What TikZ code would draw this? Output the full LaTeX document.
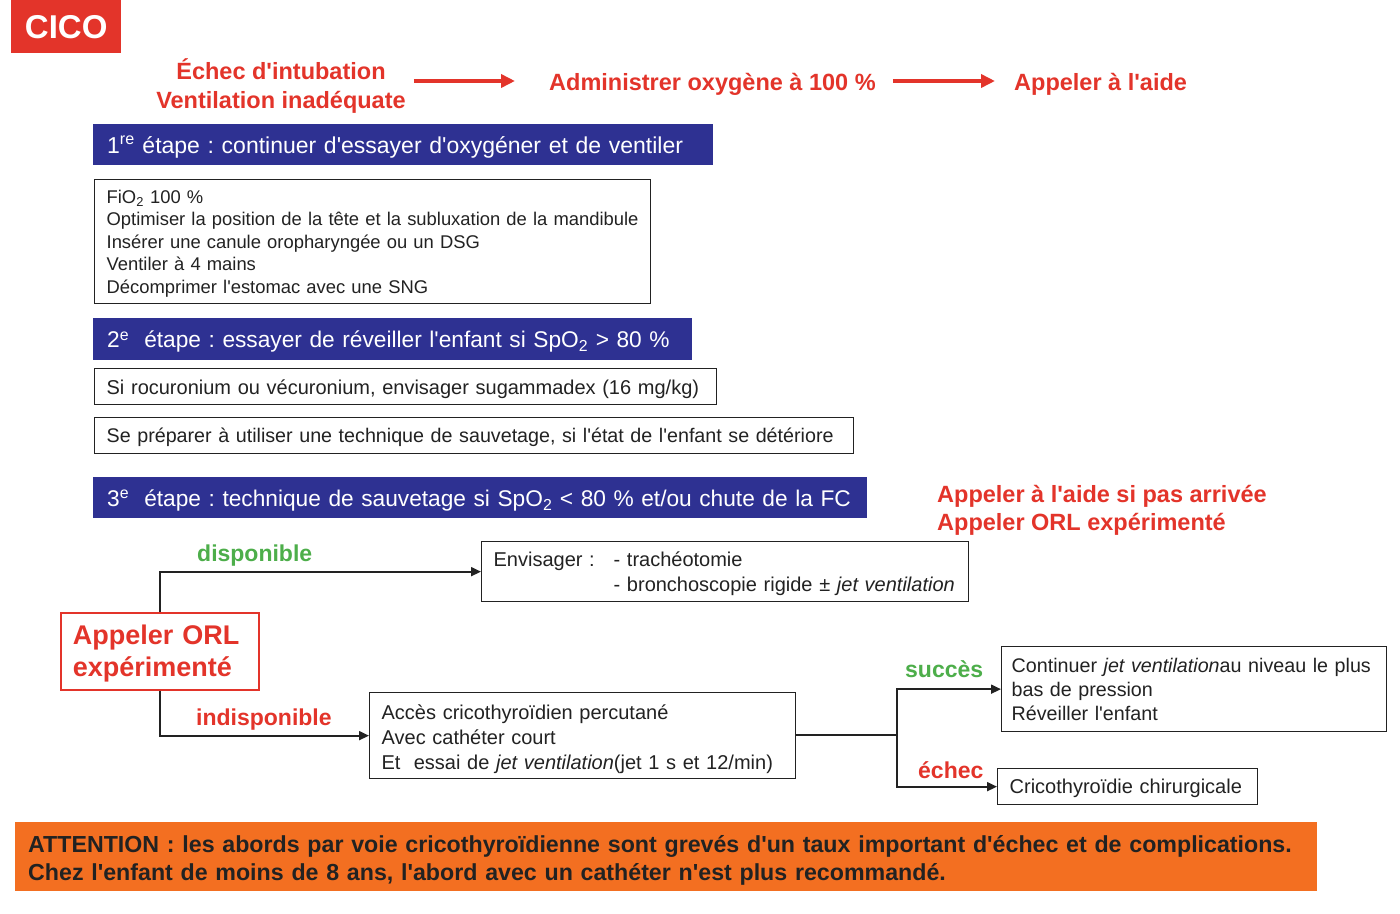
\documentclass[tikz,border=0pt]{standalone}
\usepackage{fontspec}
\setmainfont{Liberation Sans}[Ligatures=TeXOff]
\usetikzlibrary{arrows.meta}
\definecolor{cred}{HTML}{E3342A}
\definecolor{cblue}{HTML}{2E3192}
\definecolor{cgreen}{HTML}{4DAE4A}
\definecolor{corange}{HTML}{F36F21}
\definecolor{cink}{HTML}{222222}
\frenchspacing
\begin{document}
\begin{tikzpicture}[x=1pt,y=-1pt,
  lbl/.style={inner sep=0pt, anchor=base west},
  head/.style={lbl, text=cred, font=\fontsize{23.5}{28.5}\selectfont\bfseries},
  branch/.style={lbl, font=\fontsize{23}{28}\selectfont\bfseries},
  bar/.style={anchor=north west, fill=cblue, text=white, inner xsep=14pt, inner ysep=0pt, align=left, text height=17pt, text depth=0pt, font=\fontsize{22.7}{28}\selectfont},
  box/.style={anchor=north west, draw=cink, line width=1.3pt, inner xsep=12pt, inner ysep=0pt, align=left, text=cink, font=\fontsize{20}{25}\selectfont},
  flat/.style={text depth=0pt},
  conn/.style={line width=1.8pt, draw=cink, -{Triangle[length=10pt,width=9pt]}},
  redarrow/.style={line width=4pt, draw=cred, -{Triangle[length=14pt,width=13pt]}},
]
\fill[white] (0,0) rectangle (1400,913);
\useasboundingbox (0,0) rectangle (1400,913);

% title
\node[anchor=north west, fill=cred, text=white, minimum width=110pt, minimum height=53pt, inner sep=0pt, font=\fontsize{33}{36}\selectfont\bfseries] (cico) at (11,0) {CICO};

% header line
\node[inner sep=0pt, text=cred, font=\fontsize{23.5}{28.5}\selectfont\bfseries, align=center] (echec) at (281,86) {Échec d'intubation\\Ventilation inadéquate};
\node[head] (admin) at (549,90) {Administrer oxygène à 100 \%};
\node[head] (aide) at (1014,90) {Appeler à l'aide};
\coordinate (a1) at ([yshift=9pt]admin.base west);
\coordinate (a2) at ([yshift=9pt]admin.base east);
\coordinate (a3) at ([yshift=9pt]aide.base west);
\draw[redarrow] ([xshift=8pt]echec.east |- a1) -- ([xshift=-34pt]a1);
\draw[redarrow] ([xshift=17pt]a2) -- ([xshift=-19pt]a3);

% step 1
\node[bar, minimum width=620pt, minimum height=41pt, text width=592pt, font=\fontsize{23}{28}\selectfont] (s1) at (93,124)
  {1\textsuperscript{re} étape : continuer d'essayer d'oxygéner et de ventiler};
\node[box, minimum width=556pt, minimum height=124pt, text width=532pt, font=\fontsize{18.4}{22.6}\selectfont] (b1) at (94,179)
  {\rule{0pt}{17pt}FiO\textsubscript{2} 100 \%\\
   Optimiser la position de la tête et la subluxation de la mandibule\\
   Insérer une canule oropharyngée ou un DSG\\
   Ventiler à 4 mains\\
   Décomprimer l'estomac avec une SNG};

% step 2
\node[bar, minimum width=599pt, minimum height=42pt, text width=571pt] (s2) at (93,318)
  {2\textsuperscript{e}\ \ étape : essayer de réveiller l'enfant si SpO\textsubscript{2} > 80 \%};
\node[box, flat, minimum width=622pt, minimum height=36pt, text width=598pt] (b2) at (94,368)
  {Si rocuronium ou vécuronium, envisager sugammadex (16 mg/kg)};
\node[box, flat, minimum width=759pt, minimum height=36pt, text width=735pt, font=\fontsize{19.7}{25}\selectfont] (b3) at (94,417)
  {Se préparer à utiliser une technique de sauvetage, si l'état de l'enfant se détériore};

% step 3
\node[bar, minimum width=774pt, minimum height=41pt, text width=746pt] (s3) at (93,477)
  {3\textsuperscript{e}\ \ étape : technique de sauvetage si SpO\textsubscript{2} < 80 \% et/ou chute de la FC};
\node[anchor=north west, inner sep=0pt, align=left, text=cred, font=\fontsize{23.5}{28.5}\selectfont\bfseries] (aide2) at (937,485)
  {Appeler à l'aide si pas arrivée\\Appeler ORL expérimenté};

% ORL
\node[anchor=north west, draw=cred, line width=1.6pt, minimum width=198pt, minimum height=77pt, inner xsep=12pt, inner ysep=0pt, text width=174pt, align=left, text=cred, font=\fontsize{27}{32}\selectfont\bfseries] (orl) at (60,612)
  {\rule{0pt}{24pt}Appeler ORL\\expérimenté};

\node[box, minimum width=487pt, minimum height=60pt, text width=463pt] (env) at (481,541)
  {\rule{0pt}{19pt}\makebox[120pt][l]{Envisager :}- trachéotomie\\
   \hspace*{120pt}- bronchoscopie rigide ± \textit{jet ventilation}};
\node[box, minimum width=426pt, minimum height=86pt, text width=402pt] (acc) at (369,692)
  {\rule{0pt}{21pt}Accès cricothyroïdien percutané\\
   Avec cathéter court\\
   Et\ \ essai de \textit{jet ventilation}(jet 1 s et 12/min)};
\node[box, minimum width=385pt, minimum height=85pt, inner xsep=10pt, text width=365pt, font=\fontsize{19.7}{24}\selectfont] (cont) at (1001,646)
  {Continuer \textit{jet ventilation}au niveau le plus\\
   bas de pression\\
   Réveiller l'enfant};
\node[box, flat, minimum width=260pt, minimum height=36pt, text width=236pt] (crico) at (997,768)
  {Cricothyroïdie chirurgicale};

\draw[conn] (orl.north) |- (env.west);
\draw[conn] (orl.south) |- (acc.west);
\coordinate (split) at (897,735);
\draw[line width=1.8pt, draw=cink] (acc.east |- split) -- (split);
\draw[conn] (split) |- (cont.west);
\draw[conn] (split) |- (crico.west);

\node[branch, text=cgreen] (dispo) at (197,561) {disponible};
\node[branch, text=cred] (indispo) at (196,725) {indisponible};
\node[branch, text=cgreen] (succes) at (905,677) {succès};
\node[branch, text=cred] (echec2) at (918,778) {échec};

% warning
\node[anchor=north west, fill=corange, minimum width=1302pt, minimum height=69pt, inner xsep=13pt, inner ysep=0pt, text width=1276pt, align=left, text=cink, font=\fontsize{23.2}{28}\selectfont\bfseries] (warn) at (15,822)
  {\rule{0pt}{25pt}ATTENTION : les abords par voie cricothyroïdienne sont grevés d'un taux important d'échec et de complications.\\
   Chez l'enfant de moins de 8 ans, l'abord avec un cathéter n'est plus recommandé.};
\end{tikzpicture}
\end{document}
